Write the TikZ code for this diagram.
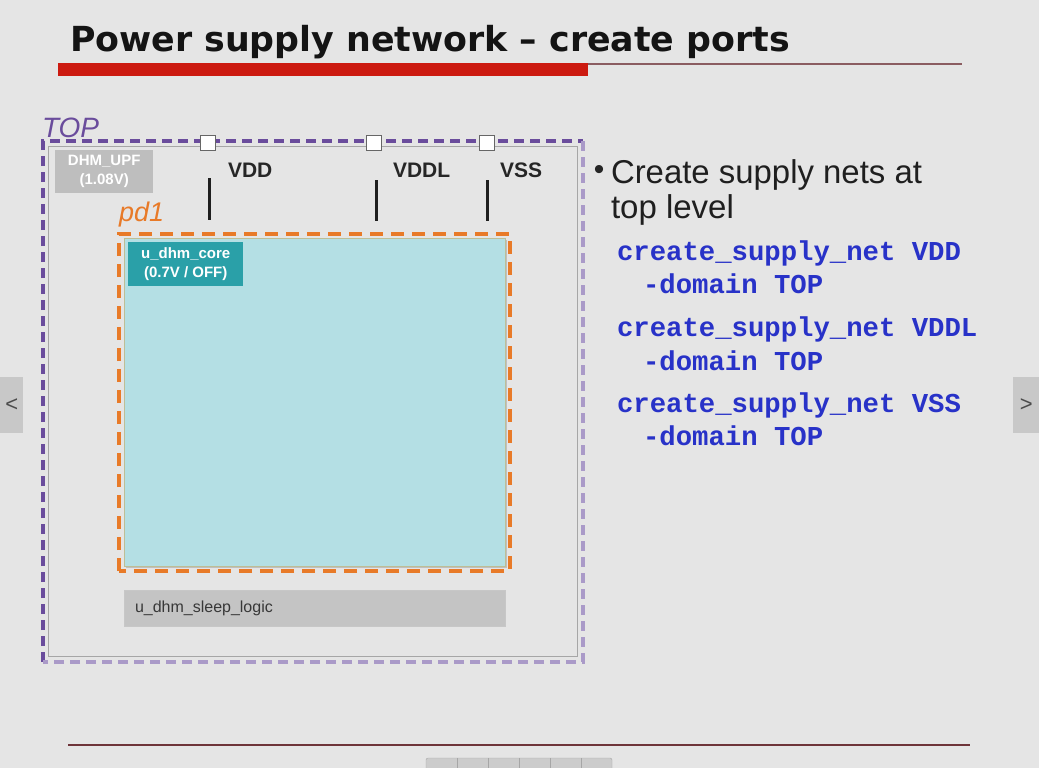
\documentclass[tikz,border=0pt]{standalone}
\usepackage{fontspec}
\usepackage{graphicx}
\setmainfont{Liberation Sans}
\newfontfamily\titlefont{DejaVu Sans}
\newfontfamily\codefont{Liberation Mono}
\definecolor{pagebg}{RGB}{229,229,229}
\definecolor{topdark}{RGB}{106,76,156}
\definecolor{toplight}{RGB}{170,154,200}
\definecolor{pdorange}{RGB}{232,122,40}
\definecolor{corefill}{RGB}{180,223,228}
\definecolor{coreedge}{RGB}{190,190,150}
\definecolor{coretag}{RGB}{42,160,168}
\definecolor{upftag}{RGB}{190,190,190}
\definecolor{sleepfill}{RGB}{196,196,196}
\definecolor{codeblue}{RGB}{40,50,200}
\definecolor{barred}{RGB}{204,26,16}
\definecolor{rulebrown}{RGB}{110,52,58}
\definecolor{navgray}{RGB}{200,200,200}
\tikzset{
  txt/.style={anchor=base west, inner sep=0pt, outer sep=0pt},
  portbox/.style={draw=black!60, fill=white, line width=1pt, minimum size=15pt, inner sep=0pt},
  netlabel/.style={txt, font=\fontsize{21}{21}\selectfont\bfseries, text=black!85},
  netwire/.style={line width=3pt, black!88},
  codeline/.style={txt, font=\codefont\fontsize{27.3}{27.3}\selectfont\bfseries, text=codeblue},
  tagtext/.style={font=\fontsize{15}{19}\selectfont\bfseries, align=center, inner sep=0pt},
}
\begin{document}
\begin{tikzpicture}[x=1pt,y=-1pt]
\useasboundingbox (0,0) rectangle (1039,768);
\fill[pagebg] (0,0) rectangle (1039,768);

% heading
\node[txt, text=black!92] (title) at (70,52)
  {\resizebox{720pt}{\height}{\titlefont\fontsize{34.5}{34.5}\selectfont\bfseries Power supply network – create ports}};
\fill[barred] (58,63) rectangle (588,76);
\coordinate (ruleA) at (588,64);
\coordinate (ruleB) at (962,64);
\draw[line width=1.3pt, rulebrown!80] (ruleA) -- (ruleB);

% footer rule
\coordinate (footA) at (68,745);
\coordinate (footB) at (970,745);
\draw[line width=2.2pt, rulebrown!35] (footA) -- (footB);
\draw[line width=1.2pt, rulebrown] (footA) -- (footB);

% side navigation buttons
\node[fill=navgray, minimum width=23pt, minimum height=56pt, inner sep=0pt, anchor=north west,
      font=\fontsize{22}{22}\selectfont, text=black!70] (navL) at (0,377) {<};
\node[fill=navgray, minimum width=26pt, minimum height=56pt, inner sep=0pt, anchor=north west,
      font=\fontsize{22}{22}\selectfont, text=black!70] (navR) at (1013,377) {>};
% toolbar at the bottom edge
\draw[fill=black!20, draw=black!35, rounded corners=2pt] (426,758) rectangle (612,775);
\foreach \bx in {457,488,519,550,581} \draw[black!35] (\bx,758) -- (\bx,768);

% TOP domain
\draw[black!35, line width=0.8pt] (48,146) rectangle (577,656);
\draw[topdark, line width=3.4pt, dash pattern=on 10pt off 6pt] (43,662) -- (43,141) -- (583,141);
\draw[toplight, line width=3.4pt, dash pattern=on 10pt off 6pt] (583,141) -- (583,662) -- (43,662);
\node[txt, font=\fontsize{28}{28}\selectfont\itshape, text=topdark] (toplbl) at (42,137) {TOP};

\node[fill=upftag, text=white!94, tagtext, minimum width=98pt, minimum height=43pt, anchor=north west] (upf) at (55,150)
  {DHM\_UPF\\(1.08V)};

% supply ports and nets
\node[portbox] (p1) at (208,143) {};
\node[portbox] (p2) at (374,143) {};
\node[portbox] (p3) at (487,143) {};
\coordinate (w1a) at (209,178); \coordinate (w1b) at (209,220);
\coordinate (w2a) at (376,180); \coordinate (w2b) at (376,221);
\coordinate (w3a) at (487,180); \coordinate (w3b) at (487,221);
\draw[netwire] (w1a) -- (w1b);
\draw[netwire] (w2a) -- (w2b);
\draw[netwire] (w3a) -- (w3b);
\node[netlabel] (vdd) at (228,177) {VDD};
\node[netlabel] (vddl) at (393,177) {VDDL};
\node[netlabel] (vss) at (500,177) {VSS};

% pd1 domain
\node[txt, font=\fontsize{27}{27}\selectfont\itshape, text=pdorange] (pdlbl) at (119,221) {pd1};
\fill[black!25] (126,240) rectangle (507,568);
\draw[fill=corefill, draw=coreedge, line width=0.8pt] (124,238) rectangle (505,566);
\draw[pdorange, line width=4pt, dash pattern=on 13pt off 8pt] (119,571) -- (119,234) -- (510,234) -- (510,571) -- cycle;
\node[fill=coretag, text=white, tagtext, minimum width=115pt, minimum height=44pt, anchor=north west] (core) at (128,242)
  {u\_dhm\_core\\(0.7V / OFF)};

% sleep logic
\node[fill=sleepfill, draw=black!22, line width=0.6pt, minimum width=381pt, minimum height=36pt, anchor=north west] (sleep) at (124,590) {};
\node[txt, font=\fontsize{16}{16}\selectfont, text=black!78] (sleeplbl) at (135,612) {u\_dhm\_sleep\_logic};

% bullet and commands
\node[anchor=center, inner sep=0pt, font=\fontsize{30}{30}\selectfont, text=black!85] (bul) at (599,172) {•};
\node[txt, text=black!88] (b1) at (611,183)
  {\resizebox{311pt}{\height}{\fontsize{33}{33}\selectfont Create supply nets at}};
\node[txt, font=\fontsize{33}{33}\selectfont, text=black!88] (b2) at (611,218) {top level};
\node[codeline] (c1) at (617,260) {create\_supply\_net VDD};
\node[codeline] (c2) at (643,293) {-domain TOP};
\node[codeline] (c3) at (617,336) {create\_supply\_net VDDL};
\node[codeline] (c4) at (643,370) {-domain TOP};
\node[codeline] (c5) at (617,412) {create\_supply\_net VSS};
\node[codeline] (c6) at (643,445) {-domain TOP};
\end{tikzpicture}
\end{document}
